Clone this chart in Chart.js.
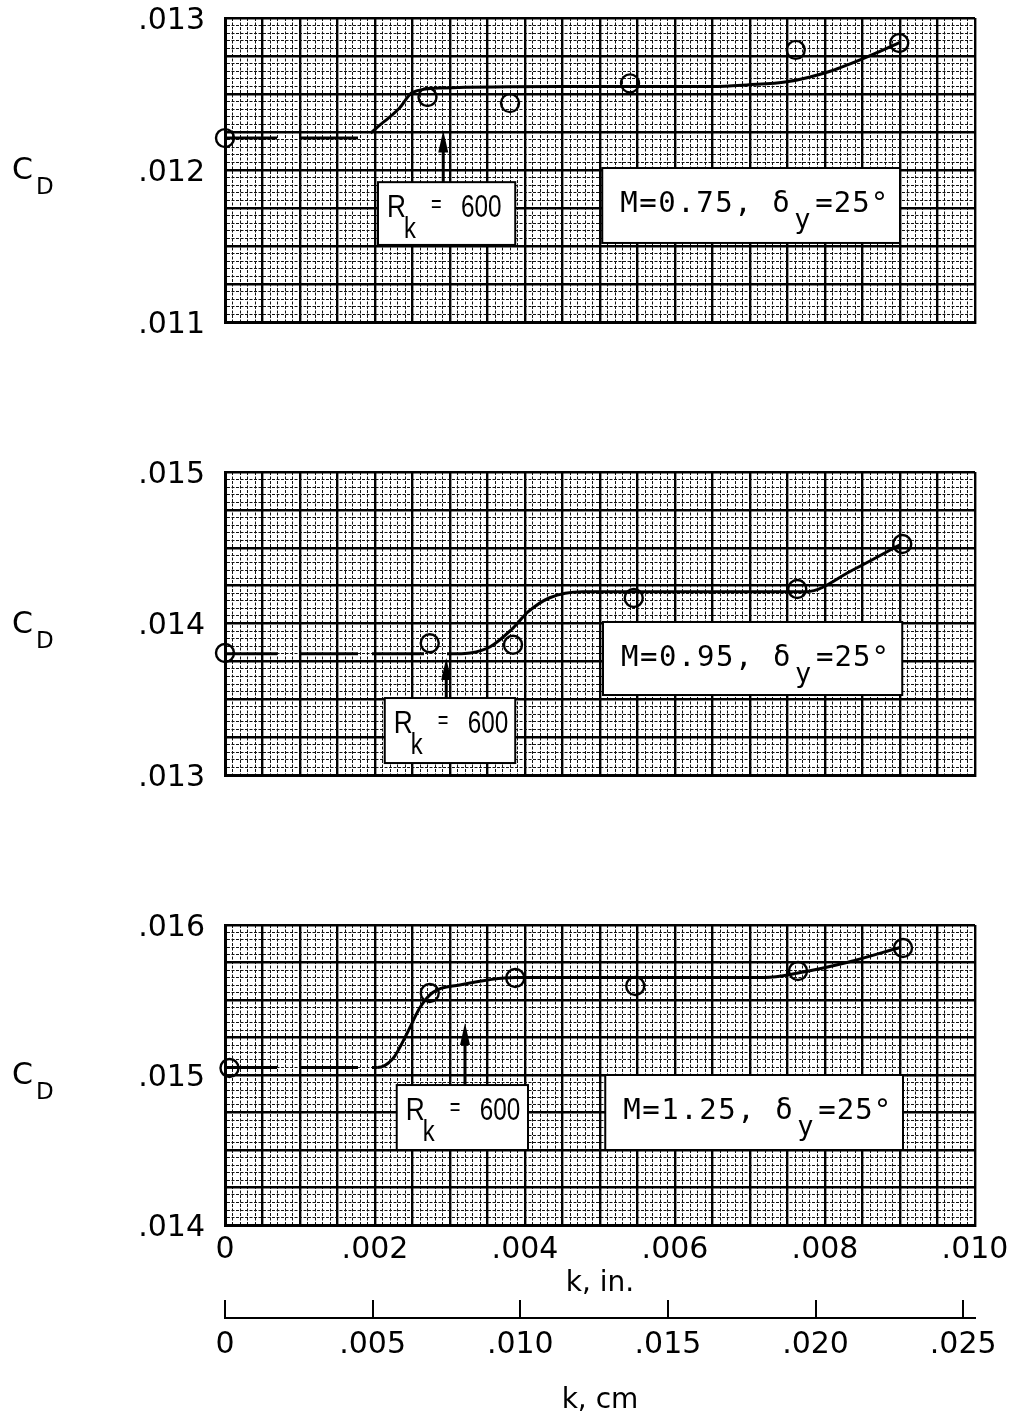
<!DOCTYPE html>
<html>
<head>
<meta charset="utf-8">
<script src="https://cdn.jsdelivr.net/npm/chart.js@4.4.1/dist/chart.umd.min.js"></script>
<style>
    html, body { margin: 0; padding: 0; background: #fff; }
    #page { position: relative; width: 1020px; height: 1422px; background: #fff; }
    canvas { position: absolute; left: 0; }
</style>
</head>
<body>
<div id="page">
    <canvas id="panel1" width="1020" height="345" style="top:0px"></canvas>
    <canvas id="panel2" width="1020" height="345" style="top:450px"></canvas>
    <canvas id="panel3" width="1020" height="405" style="top:900px"></canvas>
    <canvas id="cmAxis" width="1020" height="132" style="top:1290px"></canvas>
</div>
<script>
// test points and faired curves, k in inches
const kPts075 = [0, 0.0027, 0.0038, 0.0054, 0.00761, 0.00899];
const cdPts075 = [0.01221, 0.01248, 0.01244, 0.01257, 0.01279, 0.012836];
const kFair075 = [0, 0.0018, 0.0021, 0.00233, 0.0025, 0.0029, 0.0045, 0.0065, 0.00696, 0.00749, 0.00807, 0.00864, 0.009];
const cdFair075 = [0.01221, 0.01221, 0.01231, 0.01241, 0.01251, 0.01254, 0.01255, 0.01255, 0.01256, 0.01258, 0.01265, 0.01276, 0.01284];

const kPts095 = [0, 0.00273, 0.00384, 0.00545, 0.00763, 0.00903];
const cdPts095 = [0.013805, 0.01387, 0.01386, 0.014168, 0.014228, 0.014525];
const kFair095 = [0, 0.0031, 0.00327, 0.00353, 0.00384, 0.00404, 0.00433, 0.00477, 0.00775, 0.00837, 0.009];
const cdFair095 = [0.0138, 0.0138, 0.013805, 0.013845, 0.01397, 0.014076, 0.01417, 0.01421, 0.01421, 0.014353, 0.01452];

const kPts125 = [0.00006, 0.00273, 0.00387, 0.00547, 0.00764, 0.00904];
const cdPts125 = [0.015047, 0.015547, 0.015647, 0.015593, 0.015693, 0.015847];
const kFair125 = [0, 0.00203, 0.00224, 0.00243, 0.0026, 0.00277, 0.00313, 0.00387, 0.0072, 0.00764, 0.00829, 0.009];
const cdFair125 = [0.01505, 0.01505, 0.01511, 0.01528, 0.01545, 0.01555, 0.0156, 0.01565, 0.01565, 0.01568, 0.01575, 0.01585];

// tick labels
const kInTicks = [0, 0.002, 0.004, 0.006, 0.008, 0.010];
const kCmTicks = [0, 0.005, 0.010, 0.015, 0.020, 0.025];
const cdTicks075 = [0.011, 0.012, 0.013];
const cdTicks095 = [0.013, 0.014, 0.015];
const cdTicks125 = [0.014, 0.015, 0.016];

const KIN_TO_CM = 2.54;
const LABEL_FONT = { family: '"DejaVu Sans", sans-serif', size: 30 };
const TITLE_FONT = { family: '"DejaVu Sans", sans-serif', size: 28 };
const SANS = '"Liberation Sans", "DejaVu Sans", sans-serif';
const MONO = '"DejaVu Sans Mono", "Liberation Mono", monospace';

function fmt(v) {
    if (Math.abs(v) < 1e-9) return "0";
    return v.toFixed(3).replace(/^0/, "");
}

function inList(list, v) {
    return list.some((t) => Math.abs(t - v) < 1e-8);
}

function spaced(ctx, text, x, y, pitch) {
    for (let i = 0; i < text.length; i++) {
        ctx.fillText(text[i], x + i * pitch, y);
    }
}

// condensed lettering, like the hand-lettered R_k label
function narrow(ctx, text, x, y, squeeze) {
    ctx.save();
    ctx.translate(x, y);
    ctx.scale(squeeze, 1);
    ctx.fillText(text, 0, 0);
    ctx.restore();
}

// boxes, arrows and the C_D label, placed with the chart scales
const panelNotes = {
    id: "panelNotes",
    beforeDatasetsDraw(chart, args, opts) {
        const { ctx } = chart;
        const x = chart.scales.x, y = chart.scales.y;
        ctx.save();
        ctx.fillStyle = "#000";
        ctx.strokeStyle = "#000";
        ctx.textBaseline = "alphabetic";
        ctx.textAlign = "left";

        // R_k box
        let b = opts.rkBox;
        let l = x.getPixelForValue(b[0]), r = x.getPixelForValue(b[1]);
        let t = y.getPixelForValue(b[2]), btm = y.getPixelForValue(b[3]);
        ctx.fillStyle = "#fff";
        ctx.fillRect(l, t, r - l, btm - t);
        ctx.lineWidth = 2;
        ctx.strokeRect(l, t, r - l, btm - t);
        ctx.fillStyle = "#000";
        ctx.font = "32px " + SANS;
        narrow(ctx, "R", l + 9, t + 35, 0.82);
        ctx.font = "29px " + SANS;
        narrow(ctx, "k", l + 26, t + 56, 0.82);
        ctx.font = "26px " + SANS;
        narrow(ctx, "=", l + 53, t + 30, 0.7);
        ctx.font = "32px " + SANS;
        narrow(ctx, "600", l + 83, t + 35, 0.76);

        // arrow up from the R_k box
        const ax = x.getPixelForValue(opts.arrow[0]);
        const ay0 = y.getPixelForValue(opts.arrow[1]);
        const ay1 = y.getPixelForValue(opts.arrow[2]);
        ctx.lineWidth = 3;
        ctx.beginPath();
        ctx.moveTo(ax, ay0);
        ctx.lineTo(ax, ay1 + 14);
        ctx.stroke();
        ctx.beginPath();
        ctx.moveTo(ax, ay1);
        ctx.lineTo(ax - 5, ay1 + 22);
        ctx.lineTo(ax + 5, ay1 + 22);
        ctx.closePath();
        ctx.fill();

        // Mach / deflection box
        b = opts.mBox;
        l = x.getPixelForValue(b[0]); r = x.getPixelForValue(b[1]);
        t = y.getPixelForValue(b[2]); btm = y.getPixelForValue(b[3]);
        ctx.fillStyle = "#fff";
        ctx.fillRect(l, t, r - l, btm - t);
        ctx.lineWidth = 2;
        ctx.strokeRect(l, t, r - l, btm - t);
        ctx.fillStyle = "#000";
        ctx.font = "29px " + MONO;
        spaced(ctx, "M=" + opts.mach + ", \u03b4", l + 18, t + 44, 19);
        ctx.font = "27px " + MONO;
        ctx.fillText("y", l + 192, t + 60);
        ctx.font = "29px " + MONO;
        spaced(ctx, "=25\u00b0", l + 213, t + 44, 18.5);
        ctx.restore();
    },
    afterDraw(chart) {
        const { ctx, chartArea } = chart;
        const mid = (chartArea.top + chartArea.bottom) / 2;
        ctx.save();
        ctx.fillStyle = "#000";
        ctx.textAlign = "left";
        ctx.textBaseline = "alphabetic";
        ctx.font = '30px "DejaVu Sans", sans-serif';
        ctx.fillText("C", 12, mid + 9);
        ctx.font = '23px "DejaVu Sans", sans-serif';
        ctx.fillText("D", 36, mid + 24);
        ctx.restore();
    }
};

function gridWidth(c) { return c.index % 5 === 0 ? 2.4 : 1; }
function gridColor(c) { return c.index % 5 === 0 ? "#000" : "#111"; }
function gridDash(c) { return c.index === undefined || c.index % 5 === 0 ? [] : [3, 1.5]; }

function makePanel(id, cfg) {
    const fair = cfg.kFair.map((k, i) => ({ x: k, y: cfg.cdFair[i] }));
    const pts = cfg.kPts.map((k, i) => ({ x: k, y: cfg.cdPts[i] }));
    return new Chart(document.getElementById(id), {
        type: "line",
        data: {
            datasets: [
                {
                    data: fair,
                    borderColor: "#000",
                    borderWidth: 3,
                    pointRadius: 0,
                    cubicInterpolationMode: "monotone",
                    fill: false,
                    segment: {
                        borderDash: (c) => (c.p1.parsed.x <= cfg.dashTo + 1e-9 ? [52, 23, 58, 14] : undefined),
                    },
                },
                {
                    data: pts,
                    showLine: false,
                    pointRadius: 9,
                    pointBorderWidth: 2.4,
                    pointBorderColor: "#000",
                    pointBackgroundColor: "rgba(0,0,0,0)",
                    clip: false,
                },
            ],
        },
        options: {
            responsive: false,
            animation: false,
            events: [],
            layout: { padding: { top: cfg.padTop, bottom: cfg.padBottom, left: 0, right: 45 } },
            plugins: {
                legend: { display: false },
                tooltip: { enabled: false },
                panelNotes: { rkBox: cfg.rkBox, arrow: cfg.arrow, mBox: cfg.mBox, mach: cfg.mach },
            },
            scales: {
                x: {
                    type: "linear",
                    min: 0,
                    max: 0.01,
                    ticks: {
                        display: cfg.showX,
                        stepSize: 0.0001,
                        autoSkip: false,
                        maxRotation: 0,
                        minRotation: 0,
                        padding: 7,
                        color: "#000",
                        font: LABEL_FONT,
                        callback: (v) => (inList(kInTicks, v) ? fmt(v) : ""),
                    },
                    grid: { color: gridColor, lineWidth: gridWidth, drawTicks: false },
                    border: { display: true, color: "#000", width: 3, dash: gridDash },
                    title: { display: cfg.showX, text: "k, in.", color: "#000", font: TITLE_FONT },
                    afterFit: (s) => {
                        if (cfg.showX) s.height = cfg.xHeight;
                        s.paddingLeft = 0;
                        s.paddingRight = 0;
                    },
                },
                y: {
                    type: "linear",
                    min: cfg.yTicks[0],
                    max: cfg.yTicks[cfg.yTicks.length - 1],
                    ticks: {
                        stepSize: 0.00005,
                        autoSkip: false,
                        padding: 20,
                        labelOffset: 3,
                        color: "#000",
                        font: LABEL_FONT,
                        callback: (v) => (inList(cfg.yTicks, v) ? fmt(v) : ""),
                    },
                    grid: { color: gridColor, lineWidth: gridWidth, drawTicks: false },
                    border: { display: true, color: "#000", width: 3, dash: gridDash },
                    afterFit: (s) => {
                        s.width = 225;
                        s.paddingTop = 0;
                        s.paddingBottom = 0;
                    },
                },
            },
        },
        plugins: [panelNotes],
    });
}

makePanel("panel1", {
    kPts: kPts075, cdPts: cdPts075, kFair: kFair075, cdFair: cdFair075,
    yTicks: cdTicks075, dashTo: 0.0021, padTop: 18, padBottom: 23, showX: false,
    rkBox: [0.00204, 0.00387, 0.01192, 0.011507], arrow: [0.00291, 0.01192, 0.01226],
    mBox: [0.00503, 0.009, 0.012013, 0.01152], mach: "0.75",
});

makePanel("panel2", {
    kPts: kPts095, cdPts: cdPts095, kFair: kFair095, cdFair: cdFair095,
    yTicks: cdTicks095, dashTo: 0.0031, padTop: 22, padBottom: 20, showX: false,
    rkBox: [0.00213, 0.00387, 0.013508, 0.013079], arrow: [0.00295, 0.013508, 0.013772],
    mBox: [0.00504, 0.00903, 0.01401, 0.013528], mach: "0.95",
});

makePanel("panel3", {
    kPts: kPts125, cdPts: cdPts125, kFair: kFair125, cdFair: cdFair125,
    yTicks: cdTicks125, dashTo: 0.00203, padTop: 25, padBottom: 0, showX: true, xHeight: 80,
    rkBox: [0.00229, 0.00404, 0.014933, 0.0145], arrow: [0.0032, 0.014933, 0.015347],
    mBox: [0.00507, 0.00904, 0.015, 0.0145], mach: "1.25",
});

// second abscissa in centimetres
new Chart(document.getElementById("cmAxis"), {
    type: "line",
    data: { datasets: [] },
    options: {
        responsive: false,
        animation: false,
        events: [],
        layout: { padding: { top: 10, left: 225, right: 45, bottom: 0 } },
        plugins: { legend: { display: false }, tooltip: { enabled: false } },
        scales: {
            x: {
                type: "linear",
                min: 0,
                max: 0.01 * KIN_TO_CM,
                afterBuildTicks: (s) => { s.ticks = kCmTicks.map((v) => ({ value: v })); },
                ticks: { autoSkip: false, maxRotation: 0, padding: 9, color: "#000", font: LABEL_FONT, callback: (v) => fmt(v) },
                grid: { color: "#000", lineWidth: 2, drawTicks: false },
                border: { display: true, color: "#000", width: 2 },
                title: { display: true, text: "k, cm", color: "#000", font: TITLE_FONT },
                afterFit: (s) => {
                    s.height = 104;
                    s.paddingLeft = 0;
                    s.paddingRight = 0;
                },
            },
            y: { display: false, min: 0, max: 1 },
        },
    },
});
</script>
</body>
</html>
